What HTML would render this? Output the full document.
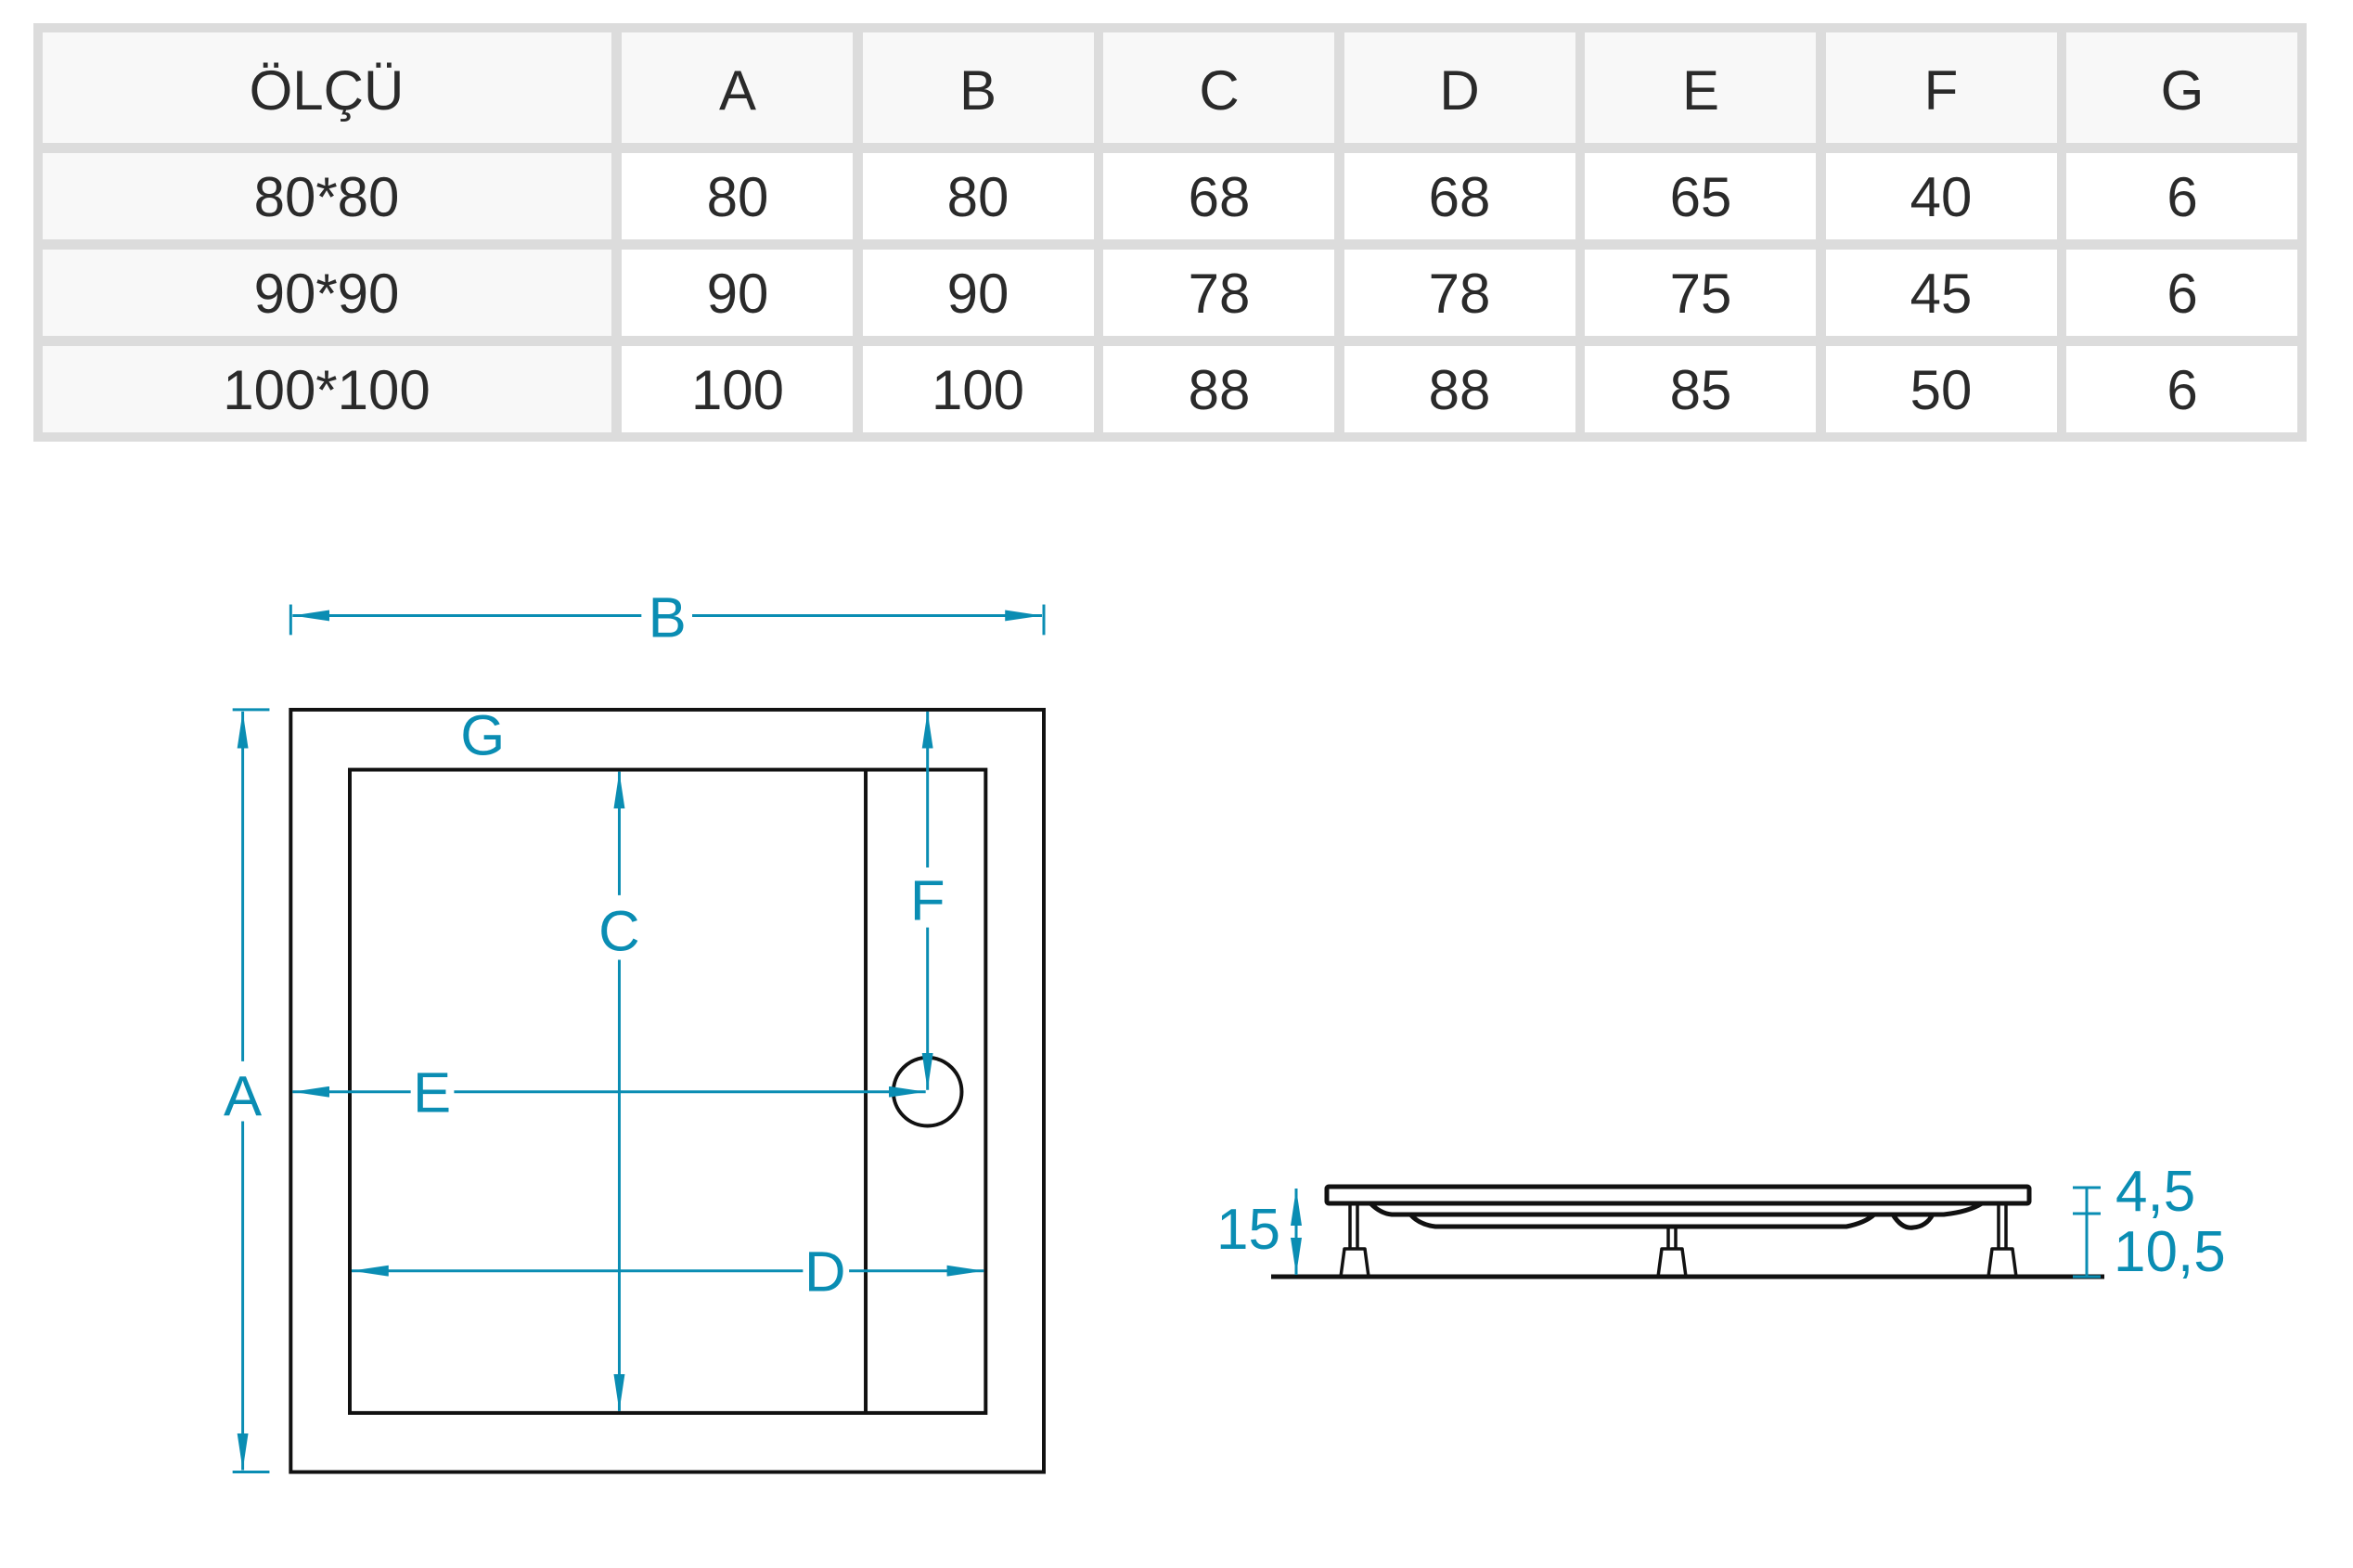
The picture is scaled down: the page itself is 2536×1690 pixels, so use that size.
<!DOCTYPE html>
<html><head><meta charset="utf-8"><style>
html,body{margin:0;padding:0;background:#fff;}
svg{display:block;}
</style></head><body>
<svg width="2536" height="1690" viewBox="0 0 2536 1690" xmlns="http://www.w3.org/2000/svg">
<defs>
<marker id="ar" viewBox="0 0 40 12" refX="40" refY="6" markerWidth="40" markerHeight="12" markerUnits="userSpaceOnUse" orient="auto-start-reverse">
<path d="M0,0 L40,6 L0,12 Z" fill="#0a8db3"/>
</marker>
</defs>
<!-- table -->
<rect x="36" y="25" width="2450" height="451" fill="#dcdcdc"/>
<g fill="#f8f8f8">
<rect x="46" y="35" width="613" height="119"/>
<rect x="46" y="165" width="613" height="93"/>
<rect x="46" y="269" width="613" height="93"/>
<rect x="46" y="373" width="613" height="93"/>
</g>
<g fill="#f8f8f8">
<rect x="670" y="35" width="249" height="119"/><rect x="930" y="35" width="249" height="119"/><rect x="1189" y="35" width="249" height="119"/><rect x="1449" y="35" width="249" height="119"/><rect x="1708" y="35" width="249" height="119"/><rect x="1968" y="35" width="249" height="119"/><rect x="2227" y="35" width="249" height="119"/>
</g>
<g fill="#fff">
<rect x="670" y="165" width="249" height="93"/><rect x="930" y="165" width="249" height="93"/><rect x="1189" y="165" width="249" height="93"/><rect x="1449" y="165" width="249" height="93"/><rect x="1708" y="165" width="249" height="93"/><rect x="1968" y="165" width="249" height="93"/><rect x="2227" y="165" width="249" height="93"/>
<rect x="670" y="269" width="249" height="93"/><rect x="930" y="269" width="249" height="93"/><rect x="1189" y="269" width="249" height="93"/><rect x="1449" y="269" width="249" height="93"/><rect x="1708" y="269" width="249" height="93"/><rect x="1968" y="269" width="249" height="93"/><rect x="2227" y="269" width="249" height="93"/>
<rect x="670" y="373" width="249" height="93"/><rect x="930" y="373" width="249" height="93"/><rect x="1189" y="373" width="249" height="93"/><rect x="1449" y="373" width="249" height="93"/><rect x="1708" y="373" width="249" height="93"/><rect x="1968" y="373" width="249" height="93"/><rect x="2227" y="373" width="249" height="93"/>
</g>
<g font-family="Liberation Sans, sans-serif" font-size="60" fill="#2a2a2a" text-anchor="middle">
<text x="352" y="118">ÖLÇÜ</text><text x="795" y="118">A</text><text x="1054" y="118">B</text><text x="1314" y="118">C</text><text x="1573" y="118">D</text><text x="1833" y="118">E</text><text x="2092" y="118">F</text><text x="2352" y="118">G</text>
<text x="352" y="233">80*80</text><text x="795" y="233">80</text><text x="1054" y="233">80</text><text x="1314" y="233">68</text><text x="1573" y="233">68</text><text x="1833" y="233">65</text><text x="2092" y="233">40</text><text x="2352" y="233">6</text>
<text x="352" y="337">90*90</text><text x="795" y="337">90</text><text x="1054" y="337">90</text><text x="1314" y="337">78</text><text x="1573" y="337">78</text><text x="1833" y="337">75</text><text x="2092" y="337">45</text><text x="2352" y="337">6</text>
<text x="352" y="441">100*100</text><text x="795" y="441">100</text><text x="1054" y="441">100</text><text x="1314" y="441">88</text><text x="1573" y="441">88</text><text x="1833" y="441">85</text><text x="2092" y="441">50</text><text x="2352" y="441">6</text>
</g>
<!-- plan view -->
<g transform="scale(0.9947)">
<g fill="none" stroke="#111" stroke-width="4">
<rect x="315" y="769" width="816" height="826"/>
<rect x="379" y="834" width="689" height="697"/>
<line x1="938" y1="834" x2="938" y2="1531"/>
<circle cx="1005" cy="1183" r="37"/>
</g>
<g stroke="#0a8db3" stroke-width="3" fill="none">
<line x1="315" y1="655" x2="315" y2="688"/><line x1="1131" y1="655" x2="1131" y2="688"/>
<line x1="317" y1="667" x2="695" y2="667" marker-start="url(#ar)"/>
<line x1="750" y1="667" x2="1129" y2="667" marker-end="url(#ar)"/>
<line x1="252" y1="769" x2="292" y2="769"/><line x1="252" y1="1595" x2="292" y2="1595"/>
<line x1="263" y1="771" x2="263" y2="1150" marker-start="url(#ar)"/>
<line x1="263" y1="1215" x2="263" y2="1593" marker-end="url(#ar)"/>
<line x1="671" y1="836" x2="671" y2="970" marker-start="url(#ar)"/>
<line x1="671" y1="1040" x2="671" y2="1529" marker-end="url(#ar)"/>
<line x1="1005" y1="771" x2="1005" y2="940" marker-start="url(#ar)"/>
<line x1="1005" y1="1005" x2="1005" y2="1181" marker-end="url(#ar)"/>
<line x1="317" y1="1183" x2="445" y2="1183" marker-start="url(#ar)"/>
<line x1="492" y1="1183" x2="1003" y2="1183" marker-end="url(#ar)"/>
<line x1="381" y1="1377" x2="870" y2="1377" marker-start="url(#ar)"/>
<line x1="920" y1="1377" x2="1066" y2="1377" marker-end="url(#ar)"/>
</g>
<g font-family="Liberation Sans, sans-serif" font-size="62" fill="#0a8db3" text-anchor="middle">
<text x="723" y="690">B</text>
<text x="263" y="1209">A</text>
<text x="523" y="818">G</text>
<text x="671" y="1030">C</text>
<text x="1005" y="997">F</text>
<text x="468" y="1205">E</text>
<text x="894" y="1399">D</text>
</g>
</g>
<!-- side view -->
<g fill="none" stroke="#111" stroke-width="5" stroke-linejoin="round">
<rect x="1430" y="1279" width="757" height="18" rx="2"/>
<path d="M1477,1297 Q1488,1308 1500,1309 L2095,1309 Q2122,1306 2136,1297"/>
<path d="M1520,1309 Q1530,1320 1547,1322 L1990,1322 Q2010,1318 2020,1309"/>
<path d="M2040,1309 Q2050,1325 2062,1323 Q2076,1322 2083,1309"/>
<line x1="1370" y1="1376" x2="2268" y2="1376"/>
</g>
<g fill="none" stroke="#111" stroke-width="3.5" stroke-linejoin="round">
<line x1="1455" y1="1297" x2="1455" y2="1346"/><line x1="1463" y1="1297" x2="1463" y2="1346"/>
<path d="M1449,1346 L1471,1346 L1475,1376 L1445,1376 Z"/>
<line x1="1798" y1="1322" x2="1798" y2="1346"/><line x1="1806" y1="1322" x2="1806" y2="1346"/>
<path d="M1791,1346 L1813,1346 L1817,1376 L1787,1376 Z"/>
<line x1="2154" y1="1297" x2="2154" y2="1346"/><line x1="2162" y1="1297" x2="2162" y2="1346"/>
<path d="M2147,1346 L2169,1346 L2173,1376 L2143,1376 Z"/>
</g>
<g stroke="#0a8db3" stroke-width="3" fill="none">
<line x1="1397" y1="1281" x2="1397" y2="1374" marker-start="url(#ar)" marker-end="url(#ar)"/>
<line x1="2249" y1="1280" x2="2249" y2="1376"/>
<line x1="2234" y1="1280" x2="2264" y2="1280"/>
<line x1="2234" y1="1308" x2="2264" y2="1308"/>
<line x1="2234" y1="1376" x2="2264" y2="1376"/>
</g>
<g font-family="Liberation Sans, sans-serif" font-size="62" fill="#0a8db3">
<text x="1311" y="1346">15</text>
<text x="2280" y="1305">4,5</text>
<text x="2278" y="1370">10,5</text>
</g>
</svg>
</body></html>
